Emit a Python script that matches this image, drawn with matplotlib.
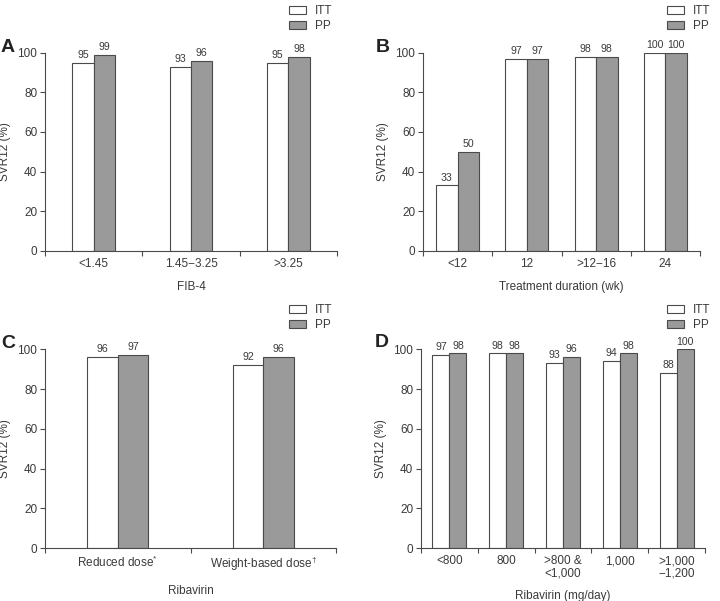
import matplotlib.pyplot as plt
import numpy as np

plt.rcParams['font.family'] = ['Liberation Sans', 'DejaVu Sans']
plt.rcParams['mathtext.fontset'] = 'custom'
plt.rcParams['mathtext.rm'] = 'Liberation Sans'
plt.rcParams['mathtext.it'] = 'Liberation Sans'

TEXT = '#3a3a3a'
EDGE = '#4a4a4a'
FILL = '#9a9a9a'
FS = 8.5

# A: FIB-4
fib4_cats = ['<1.45', '1.45\u22123.25', '>3.25']
fib4_itt = [95, 93, 95]
fib4_pp = [99, 96, 98]

# B: treatment duration
dur_cats = ['<12', '12', '>12\u221216', '24']
dur_itt = [33, 97, 98, 100]
dur_pp = [50, 97, 98, 100]

# C: ribavirin dose type
dose_cats = ['Reduced dose$^{*}$', 'Weight-based dose$^{\u2020}$']
dose_itt = [96, 92]
dose_pp = [97, 96]

# D: ribavirin mg/day
mg_cats = ['<800', '800', '>800 &\n<1,000', '1,000', '>1,000\n\u22121,200']
mg_itt = [97, 98, 93, 94, 88]
mg_pp = [98, 98, 96, 98, 100]

W, H = 720, 601
fig = plt.figure(figsize=(7.2, 6.01), dpi=100)


def px_axes(x0, x1, ytop, ybot):
    return fig.add_axes([x0 / W, 1 - ybot / H, (x1 - x0) / W, (ybot - ytop) / H])


def panel(ax, letter, letter_xy, cats, itt, pp, xlabel, bw, leg_xy):
    n = len(cats)
    x = np.arange(n)
    b1 = ax.bar(x - bw / 2, itt, bw, color='white', edgecolor=EDGE, linewidth=0.8, label='ITT')
    b2 = ax.bar(x + bw / 2, pp, bw, color=FILL, edgecolor=EDGE, linewidth=0.8, label='PP')
    for bars, vals in ((b1, itt), (b2, pp)):
        for r, v in zip(bars, vals):
            ax.annotate(str(v), (r.get_x() + r.get_width() / 2, v), xytext=(0, 2),
                        textcoords='offset points', ha='center', va='bottom',
                        fontsize=7.6, color=TEXT, annotation_clip=False)
    ax.set_xlim(-0.5, n - 0.5)
    ax.set_ylim(0, 100)
    ax.set_yticks(range(0, 101, 20))
    ax.set_xticks(np.arange(n + 1) - 0.5)
    ax.set_xticklabels([])
    ax.set_xticks(x, minor=True)
    ax.set_xticklabels(cats, minor=True, fontsize=FS, color=TEXT, linespacing=1.0)
    ax.tick_params(axis='x', which='minor', length=0, pad=5)
    ax.tick_params(axis='x', which='major', length=3.5, width=0.8, color=EDGE)
    ax.tick_params(axis='y', length=3.5, width=0.8, color=EDGE, labelsize=FS,
                   labelcolor=TEXT, pad=2)
    for s in ('top', 'right'):
        ax.spines[s].set_visible(False)
    for s in ('left', 'bottom'):
        ax.spines[s].set_color(EDGE)
        ax.spines[s].set_linewidth(0.8)
    ax.set_ylabel('SVR12 (%)', fontsize=FS, color=TEXT, labelpad=5)
    ax.set_xlabel(xlabel, fontsize=FS, color=TEXT, labelpad=8)
    ax.legend(loc='upper left', bbox_to_anchor=(leg_xy[0] / W, 1 - leg_xy[1] / H),
              bbox_transform=fig.transFigure, frameon=False, fontsize=FS,
              handlelength=1.45, handleheight=0.68, handletextpad=0.75,
              labelspacing=0.25, borderpad=0, borderaxespad=0, labelcolor=TEXT)
    fig.text(letter_xy[0] / W, 1 - letter_xy[1] / H, letter, fontsize=14,
             fontweight='bold', color='#222222', ha='left', va='center')


axA = px_axes(45, 337, 52.7, 250.7)
axB = px_axes(423, 700, 52.7, 250.7)
axC = px_axes(45, 336, 349.3, 548.3)
axD = px_axes(421, 705, 349.3, 548.3)

panel(axA, 'A', (1, 48), fib4_cats, fib4_itt, fib4_pp, 'FIB-4', 0.22, (289, 5))
panel(axB, 'B', (376, 48), dur_cats, dur_itt, dur_pp, 'Treatment duration (wk)', 0.31, (667, 5))
panel(axC, 'C', (1, 343), dose_cats, dose_itt, dose_pp, 'Ribavirin', 0.21, (289, 304))
panel(axD, 'D', (375, 342), mg_cats, mg_itt, mg_pp, 'Ribavirin (mg/day)', 0.30, (667, 304))

fig.savefig('out.png', dpi=100)
